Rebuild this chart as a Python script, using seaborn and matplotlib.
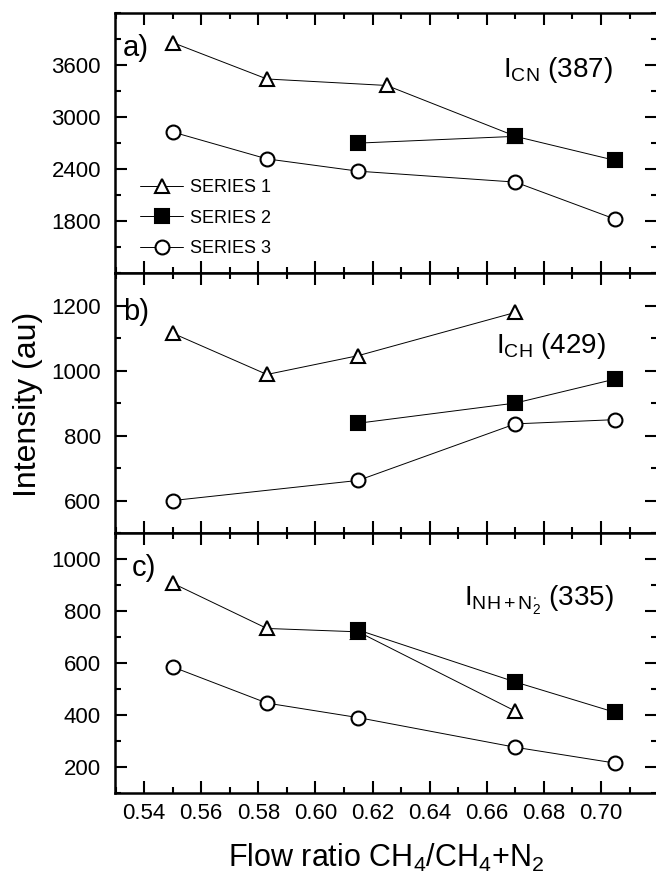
import numpy as np
import pandas as pd
import matplotlib
matplotlib.use("Agg")
import matplotlib.pyplot as plt
import seaborn as sns
from matplotlib.ticker import MultipleLocator, FixedLocator

# ---------------- data ----------------
series_names = ["SERIES 1", "SERIES 2", "SERIES 3"]

# panel a) I_CN (387)
a_s1_x = [0.550, 0.583, 0.625, 0.670]
a_s1_y = [3860, 3440, 3365, 2780]
a_s2_x = [0.615, 0.670, 0.705]
a_s2_y = [2700, 2778, 2500]
a_s3_x = [0.550, 0.583, 0.615, 0.670, 0.705]
a_s3_y = [2828, 2518, 2376, 2250, 1822]

# panel b) I_CH (429)
b_s1_x = [0.550, 0.583, 0.615, 0.670]
b_s1_y = [1115, 988, 1046, 1179]
b_s2_x = [0.615, 0.670, 0.705]
b_s2_y = [838, 900, 974]
b_s3_x = [0.550, 0.615, 0.670, 0.705]
b_s3_y = [600, 662, 836, 849]

# panel c) I_NH+N2 (335)
c_s1_x = [0.550, 0.583, 0.615, 0.670]
c_s1_y = [907, 733, 720, 415]
c_s2_x = [0.615, 0.670, 0.705]
c_s2_y = [727, 527, 410]
c_s3_x = [0.550, 0.583, 0.615, 0.670, 0.705]
c_s3_y = [585, 446, 390, 276, 215]

x_ticks = [0.54, 0.56, 0.58, 0.60, 0.62, 0.64, 0.66, 0.68, 0.70]
x_tick_labels = ["0.54", "0.56", "0.58", "0.60", "0.62", "0.64", "0.66", "0.68", "0.70"]

a_yticks = [1800, 2400, 3000, 3600]
b_yticks = [600, 800, 1000, 1200]
c_yticks = [200, 400, 600, 800, 1000]

panel_labels = ["a)", "b)", "c)"]
panel_titles = [r"I$_{\mathrm{CN}}$ (387)",
                r"I$_{\mathrm{CH}}$ (429)",
                r"I$_{\mathrm{NH+N}_2^{\cdot}}$ (335)"]

# ---------------- style ----------------
sns.set_style("ticks")
plt.rcParams["font.family"] = ["Liberation Sans", "DejaVu Sans"]
plt.rcParams["mathtext.default"] = "regular"
plt.rcParams["mathtext.fontset"] = "custom"
plt.rcParams["mathtext.rm"] = "Liberation Sans"
plt.rcParams["mathtext.it"] = "Liberation Sans"
for k in ["text.color", "axes.labelcolor", "xtick.color", "ytick.color",
          "axes.edgecolor", "xtick.labelcolor", "ytick.labelcolor"]:
    plt.rcParams[k] = "black"

fig, axes = plt.subplots(3, 1, figsize=(6.56, 8.75), dpi=100, sharex=True)
fig.subplots_adjust(left=0.1753, right=1.0015, top=0.985, bottom=0.0937, hspace=0)

styles = [
    dict(marker="^", markerfacecolor="white", markersize=10.5),
    dict(marker="s", markerfacecolor="black", markersize=9.5),
    dict(marker="o", markerfacecolor="white", markersize=10),
]

panels = [
    ([a_s1_x, a_s2_x, a_s3_x], [a_s1_y, a_s2_y, a_s3_y], (1200, 4200), a_yticks, 300),
    ([b_s1_x, b_s2_x, b_s3_x], [b_s1_y, b_s2_y, b_s3_y], (500, 1300), b_yticks, 100),
    ([c_s1_x, c_s2_x, c_s3_x], [c_s1_y, c_s2_y, c_s3_y], (100, 1100), c_yticks, 100),
]

for i, (ax, (xs, ys, ylim, yt, yminor)) in enumerate(zip(axes, panels)):
    for name, x, y, st in zip(series_names, xs, ys, styles):
        df = pd.DataFrame({"x": x, "y": y})
        sns.lineplot(data=df, x="x", y="y", ax=ax, color="black", lw=0.7,
                     markeredgecolor="black", markeredgewidth=1.5,
                     label=name, legend=False, **st)
    ax.set_xlim(0.5298, 0.7196)
    ax.set_ylim(*ylim)
    ax.yaxis.set_major_locator(FixedLocator(yt))
    ax.yaxis.set_minor_locator(MultipleLocator(yminor))
    ax.xaxis.set_major_locator(FixedLocator(x_ticks))
    ax.xaxis.set_minor_locator(MultipleLocator(0.01))
    ax.set_ylabel("")
    ax.set_xlabel("")
    for sp in ax.spines.values():
        sp.set_visible(True)
        sp.set_linewidth(1.8)
        sp.set_color("black")
    ax.tick_params(which="both", direction="in", top=True, right=True,
                   width=1.5, color="black", labelcolor="black", labelsize=16, pad=10)
    ax.tick_params(which="major", length=8.6)
    ax.tick_params(which="minor", length=4.3)
    ax.tick_params(axis="x", pad=7)
    ax.text(0.015 if i < 2 else 0.03, [0.865, 0.85, 0.865][i], panel_labels[i],
            transform=ax.transAxes, fontsize=21, ha="left", va="center", color="black")
    ty = [0.78, 0.718, 0.742][i]
    tx = [0.919, 0.905, 0.92][i]
    ax.text(tx, ty, panel_titles[i], transform=ax.transAxes, fontsize=20,
            ha="right", va="center", color="black")

axes[2].set_xticks(x_ticks)
axes[2].set_xticklabels(x_tick_labels)
axes[2].set_xlabel(r"Flow ratio CH$_4$/CH$_4$+N$_2$", fontsize=22, labelpad=13,
                   color="black")

fig.text(0.043, 1 - 404 / 875, "Intensity (au)", rotation=90, fontsize=23,
         ha="center", va="center", color="black")

handles = axes[0].get_lines()[:3]
leg = axes[0].legend(handles=handles, labels=series_names, loc="upper left",
                     bbox_to_anchor=(0.046, 0.362), frameon=False, fontsize=13,
                     handlelength=2.4, handletextpad=0.35, labelspacing=0.75,
                     borderpad=0, borderaxespad=0)
for t in leg.get_texts():
    t.set_color("black")

fig.savefig("out.png", dpi=100)
